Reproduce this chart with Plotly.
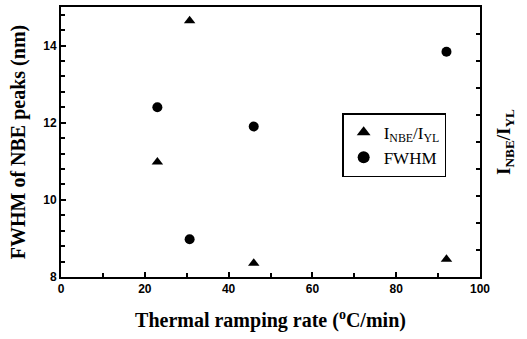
import plotly.graph_objects as go

# Data
rate = [23, 30.7, 46, 92]                 # thermal ramping rate (°C/min)
fwhm = [12.4, 8.98, 11.9, 13.84]          # FWHM of NBE peaks (nm)
ratio = [4.26, 9.49, 0.51, 0.66]          # I_NBE/I_YL (right axis, arbitrary units)

x_ticks = [0, 20, 40, 60, 80, 100]
y_ticks = [8, 10, 12, 14]

serif = "Liberation Serif, Times New Roman, serif"
sans = "Liberation Sans, Arial, sans-serif"

fig = go.Figure()
fig.add_trace(go.Scatter(
    x=rate, y=ratio, mode="markers", yaxis="y2",
    name="I<sub>NBE</sub>/I<sub>YL</sub>",
    marker=dict(symbol="triangle-up", size=10, color="black"),
))
fig.add_trace(go.Scatter(
    x=rate, y=fwhm, mode="markers",
    name="FWHM",
    marker=dict(symbol="circle", size=10, color="black"),
))

fig.update_layout(
    width=527, height=339,
    margin=dict(l=61, r=47, t=5, b=62),
    paper_bgcolor="white", plot_bgcolor="white",
    showlegend=True,
    legend=dict(
        x=0.671, y=0.607, xanchor="left", yanchor="top",
        bordercolor="black", borderwidth=1.5, bgcolor="white",
        font=dict(family=serif, size=17, color="black"),
        itemsizing="constant", tracegroupgap=0,
    ),
    xaxis=dict(
        range=[0, 100], tickvals=x_ticks, ticktext=[str(v) for v in x_ticks],
        showline=True, linecolor="black", linewidth=2, mirror=True,
        ticks="inside", ticklen=5, tickwidth=1.5, tickcolor="black",
        minor=dict(dtick=10, tick0=0, ticks="inside", ticklen=4, tickwidth=1.5, tickcolor="black"),
        showgrid=False, zeroline=False,
        tickfont=dict(family=sans, size=12, color="black", weight="bold"),
        title=dict(text="Thermal ramping rate (<sup>o</sup>C/min)",
                   font=dict(family=serif, size=20, color="black", weight="bold"),
                   standoff=18),
    ),
    yaxis=dict(
        range=[8, 15], tickvals=y_ticks, ticktext=[str(v) for v in y_ticks],
        showline=True, linecolor="black", linewidth=2,
        ticks="inside", ticklen=5, tickwidth=1.5, tickcolor="black",
        minor=dict(dtick=0.4, tick0=8, ticks="inside", ticklen=4, tickwidth=1.5, tickcolor="black"),
        showgrid=False, zeroline=False,
        tickfont=dict(family=sans, size=12, color="black", weight="bold"),
        title=dict(text="FWHM of NBE peaks (nm)",
                   font=dict(family=serif, size=20, color="black", weight="bold"),
                   standoff=12),
    ),
    yaxis2=dict(
        overlaying="y", side="right", range=[0, 10], dtick=1,
        showline=True, linecolor="black", linewidth=2,
        ticks="inside", ticklen=4, tickwidth=1.5, tickcolor="black",
        showticklabels=False, showgrid=False, zeroline=False,
        title=dict(text="I<sub>NBE</sub>/I<sub>YL</sub>",
                   font=dict(family=serif, size=19, color="black", weight="bold"),
                   standoff=16),
    ),
)

fig.write_html("out.html")
